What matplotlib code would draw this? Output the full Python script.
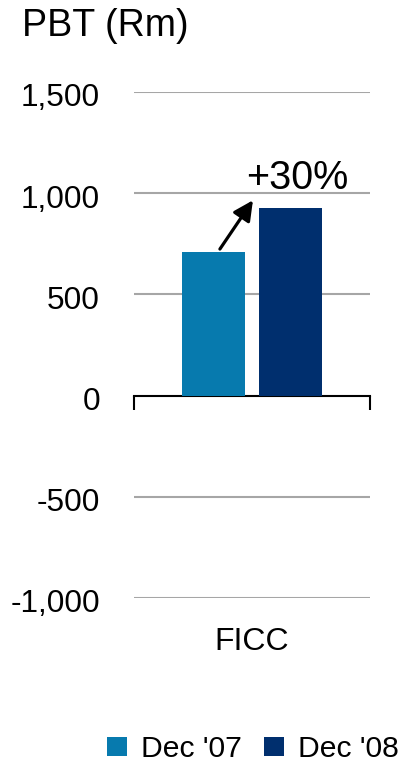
import matplotlib
matplotlib.use("Agg")
import matplotlib.pyplot as plt
import matplotlib.transforms as mtransforms

plt.rcParams['font.family'] = ['Liberation Sans', 'DejaVu Sans']

categories = ["FICC"]
series_names = ["Dec '07", "Dec '08"]
values_07 = [710]
values_08 = [925]
colors = ["#077AAE", "#002F6E"]
growth_label = "+30%"
yticks = [-1000, -500, 0, 500, 1000, 1500]
ytick_labels = ["-1,000", "-500", "0", "500", "1,000", "1,500"]

fig = plt.figure(figsize=(4.02, 7.63), dpi=100)
ax = fig.add_axes([134/402, 1-598/763, 236/402, (598-92)/763])

width = 0.27
offset = 0.163
x = list(range(len(categories)))
b1 = ax.bar([i - offset for i in x], values_07, width, color=colors[0], label=series_names[0], zorder=3)
b2 = ax.bar([i + offset for i in x], values_08, width, color=colors[1], label=series_names[1], zorder=3)

ax.set_xlim(-0.5, 0.5)
ax.set_ylim(-1000, 1500)
ax.set_yticks(yticks)
ax.set_yticklabels(ytick_labels, fontsize=22.7)
ax.tick_params(axis='y', length=0, pad=24.5)
shift = mtransforms.ScaledTranslation(0, -3/100, fig.dpi_scale_trans)
for lbl in ax.get_yticklabels():
    lbl.set_transform(lbl.get_transform() + shift)
for t in yticks:
    if t != 0:
        ax.axhline(t, color="#A6A6A6", lw=1.5, zorder=1)

for s in ['left', 'right', 'top']:
    ax.spines[s].set_visible(False)
ax.spines['bottom'].set_position(('data', 0))
ax.spines['bottom'].set_linewidth(1.5)
ax.set_xticks([-0.5, 0.5])
ax.set_xticklabels([])
ax.tick_params(axis='x', direction='out', length=10, width=1.5)

sec = ax.secondary_xaxis('bottom')
sec.set_xticks(x)
sec.set_xticklabels(categories, fontsize=23)
sec.tick_params(length=0, pad=21)
sec.spines['bottom'].set_visible(False)

# growth arrow
ax.annotate("", xy=(0.004, 965), xytext=(-0.136, 724),
            arrowprops=dict(arrowstyle='-|>,head_length=1.2,head_width=0.6', color='black', lw=2.3,
                            shrinkA=0, shrinkB=0),
            zorder=5)
ax.text(0.19, 1074, growth_label, fontsize=28.5, ha='center', va='center', zorder=5)

fig.text(22/402, 1-26/763, "PBT (Rm)", fontsize=27, ha='left', va='center')

fig.legend(handles=[b1, b2], labels=series_names, loc='center', bbox_to_anchor=(253/402, 1-749/763),
           ncol=2, frameon=False, fontsize=21.7, handlelength=0.66, handleheight=0.6,
           handletextpad=0.46, columnspacing=0.76, borderpad=0)

fig.savefig("out.png", dpi=100)
